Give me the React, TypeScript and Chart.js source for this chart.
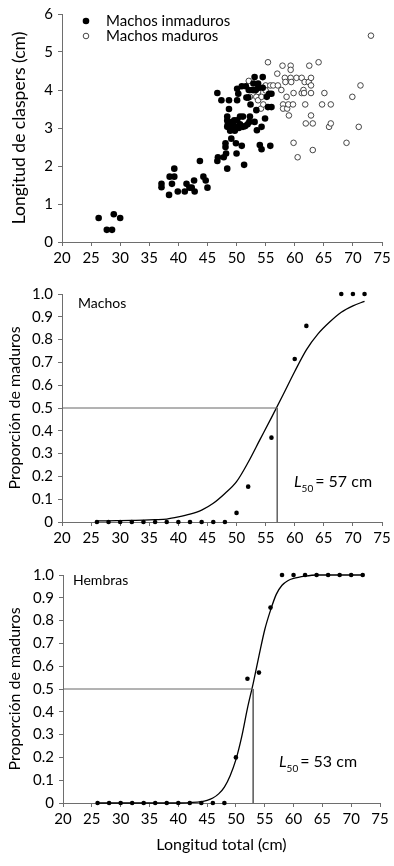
import React, { useEffect, useRef } from 'react';
import { Chart, registerables } from 'chart.js';
Chart.register(...registerables);

const FONT = 'Lato, "Open Sans", sans-serif';
const AXIS_COLOR = '#6e6e6e';

// ---------- Panel 1: clasper length vs total length ----------
const immatureLength = [
  26.3, 27.7, 28.6, 28.9, 30.0, 37.1, 37.1, 38.4, 38.5, 38.9, 39.3, 39.3, 39.9, 41.1, 41.4, 41.9, 42.3, 42.7, 42.8,
  43.7, 44.3, 44.7, 45.0, 46.7, 46.7, 46.8, 47.4, 47.8, 48.1, 48.1, 48.2, 48.4, 48.4, 48.4, 48.4, 48.7, 48.7, 48.9,
  49.1, 49.4, 49.4, 49.7, 49.9, 50.0, 50.1, 50.1, 50.1, 50.1, 50.3, 50.6, 50.6, 50.9, 51.1, 51.1, 51.3, 50.9, 51.6,
  51.7, 52.0, 52.1, 52.2, 52.3, 52.4, 52.7, 52.9, 53.1, 53.1, 53.3, 53.4, 53.5, 53.7, 53.7, 54.0, 54.3, 54.3, 54.5,
  54.5, 54.9, 55.2, 55.4, 55.6, 55.8, 56.0, 56.0, 49.0, 49.6, 50.4, 51.5, 51.9, 49.2, 48.5,
];
const immatureClasper = [
  0.63, 0.32, 0.32, 0.73, 0.63, 1.53, 1.44, 1.24, 1.72, 1.53, 1.93, 1.72, 1.33, 1.33, 1.53, 1.43, 1.43, 1.62, 1.33,
  2.13, 1.72, 1.62, 1.43, 3.92, 2.13, 2.23, 3.73, 2.23, 2.60, 2.50, 2.33, 1.93, 3.30, 3.20, 3.03, 3.73, 3.50, 2.93,
  2.72, 3.10, 3.03, 2.93, 2.60, 2.33, 4.03, 3.73, 3.03, 3.20, 3.90, 3.10, 3.30, 2.53, 3.03, 3.30, 2.03, 4.10, 4.10,
  3.80, 3.80, 4.00, 3.16, 3.30, 3.62, 4.00, 4.17, 3.16, 4.34, 4.00, 3.47, 2.94, 4.17, 4.05, 2.55, 3.03, 2.44, 4.34,
  4.06, 3.25, 3.82, 3.55, 3.90, 2.53, 3.55, 3.90, 3.15, 3.20, 3.00, 3.05, 3.10, 3.00, 3.10,
];
const matureLength = [
  53.7, 52.1, 52.3, 53.0, 53.4, 53.7, 54.2, 54.6, 54.3, 55.0, 55.0, 55.4, 55.8, 56.3, 57.0, 57.1, 57.7, 57.9, 58.0,
  58.0, 58.3, 58.4, 58.6, 58.7, 58.9, 59.0, 59.3, 59.3, 59.3, 59.4, 59.7, 59.8, 59.8, 60.3, 60.5, 61.2, 61.2, 61.5,
  61.6, 61.7, 61.8, 61.9, 62.4, 62.5, 62.8, 62.8, 62.8, 62.8, 63.1, 63.1, 64.1, 64.7, 65.1, 65.9, 66.2, 66.2, 68.9,
  69.9, 71.0, 71.3, 73.1,
];
const matureClasper = [
  3.95, 4.24, 3.82, 3.99, 3.82, 3.73, 3.51, 3.62, 3.82, 4.12, 3.99, 4.73, 4.12, 4.12, 4.43, 4.12, 4.00, 4.64, 3.62,
  3.51, 4.32, 4.21, 3.82, 3.51, 3.62, 3.33, 4.32, 4.64, 4.53, 4.21, 3.62, 2.61, 3.92, 4.32, 2.23, 4.32, 3.92, 4.00,
  3.92, 4.21, 3.62, 3.12, 4.21, 4.64, 4.12, 3.92, 4.32, 3.33, 3.12, 2.42, 4.73, 3.62, 3.92, 3.03, 3.12, 3.62, 2.61,
  3.82, 3.03, 4.12, 5.43,
];

// ---------- Panel 2: males ----------
const maleLength = [26, 28, 30, 32, 34, 36, 38, 40, 42, 44, 46, 48, 50, 52, 56, 60, 62, 68, 70, 72];
const maleProportion = [0, 0, 0, 0, 0, 0, 0, 0, 0, 0, 0, 0, 0.04, 0.155, 0.37, 0.715, 0.86, 1, 1, 1];
const maleCurveLength = [26, 28, 30, 32, 34, 36, 38, 40, 42, 44, 46, 48, 50, 52, 54, 56, 58, 60, 62, 64, 66, 68, 70, 72];
const maleCurveValue = [
  0.005, 0.005, 0.006, 0.007, 0.008, 0.01, 0.013, 0.022, 0.034, 0.052, 0.082, 0.125, 0.177, 0.262, 0.36, 0.458,
  0.558, 0.66, 0.755, 0.825, 0.877, 0.92, 0.948, 0.968,
];
const maleL50 = 57;

// ---------- Panel 3: females ----------
const femaleLength = [26, 28, 30, 32, 34, 36, 38, 40, 42, 44, 46, 48, 50, 52, 54, 56, 58, 60, 62, 64, 66, 68, 70, 72];
const femaleProportion = [0, 0, 0, 0, 0, 0, 0, 0, 0, 0, 0, 0, 0.2, 0.545, 0.572, 0.857, 1, 1, 1, 1, 1, 1, 1, 1];
const femaleCurveLength = [
  26, 28, 30, 32, 34, 36, 38, 40, 42, 44, 45, 46, 47, 48, 49, 50, 51, 52, 53, 54, 55, 56, 57, 58, 59, 60, 62, 64, 66,
  68, 70, 72,
];
const femaleCurveValue = [
  0, 0, 0, 0, 0, 0, 0, 0, 0.002, 0.006, 0.012, 0.022, 0.04, 0.07, 0.12, 0.19, 0.29, 0.415, 0.525, 0.645, 0.76, 0.845,
  0.915, 0.955, 0.975, 0.985, 0.995, 1, 1, 1, 1, 1,
];
const femaleL50 = 53;

const X_MIN = 20;
const X_MAX = 75;
const X_STEP = 5;

const pts = (xs: number[], ys: number[]) => xs.map((x, i) => ({ x, y: ys[i] }));

function xScaleOpts(height: number, title?: string) {
  return {
    type: 'linear',
    min: X_MIN,
    max: X_MAX,
    afterBuildTicks: (s: any) => {
      const t = [];
      for (let v = X_MIN; v <= X_MAX; v += X_STEP) t.push({ value: v });
      s.ticks = t;
    },
    ticks: { color: '#000', font: { family: FONT, size: 15 }, padding: 3, maxRotation: 0, autoSkip: false },
    grid: { drawOnChartArea: false, drawTicks: true, tickLength: 4, color: AXIS_COLOR },
    border: { display: true, color: AXIS_COLOR, width: 1 },
    title: title
      ? { display: true, text: title, color: '#000', font: { family: FONT, size: 16 }, padding: { top: 0, bottom: 12 } }
      : { display: false },
    afterFit: (s: any) => {
      s.height = height;
    },
  };
}

function yScaleOpts(
  width: number,
  max: number,
  step: number,
  title: string,
  titleSize: number,
  titleX: number,
  fmt: (v: number) => string
) {
  return {
    type: 'linear',
    min: 0,
    max,
    ticks: {
      stepSize: step,
      color: '#000',
      font: { family: FONT, size: 15 },
      padding: 5,
      callback: (v: any) => fmt(Number(v)),
    },
    grid: { drawOnChartArea: false, drawTicks: true, tickLength: 4, color: AXIS_COLOR },
    border: { display: true, color: AXIS_COLOR, width: 1 },
    title: {
      display: true,
      text: title,
      color: '#000',
      font: { family: FONT, size: titleSize },
      padding: { top: titleX - titleSize * 0.6, bottom: 0 },
    },
    afterFit: (s: any) => {
      s.width = width;
    },
  };
}

const propFmt = (v: number) => (Math.abs(v) < 1e-9 ? '0' : v.toFixed(1));

function textPlugin(draw: (ctx: CanvasRenderingContext2D, chart: any) => void) {
  return {
    id: 'texts',
    afterDraw(chart: any) {
      const ctx = chart.ctx;
      ctx.save();
      draw(ctx, chart);
      ctx.restore();
    },
  };
}

function drawL50(ctx: CanvasRenderingContext2D, x: number, y: number, value: number) {
  ctx.fillStyle = '#000';
  ctx.textBaseline = 'alphabetic';
  ctx.textAlign = 'left';
  ctx.font = `italic 16px ${FONT}`;
  ctx.fillText('L', x, y);
  let cx = x + ctx.measureText('L').width;
  ctx.font = `10px ${FONT}`;
  ctx.fillText('50', cx, y + 5);
  cx += ctx.measureText('50').width + 2;
  ctx.font = `16px ${FONT}`;
  ctx.fillText(`= ${value} cm`, cx, y);
}

function useChart(ref: React.RefObject<HTMLCanvasElement>, make: (c: HTMLCanvasElement) => Chart) {
  useEffect(() => {
    if (!ref.current) return;
    const ch = make(ref.current);
    return () => ch.destroy();
  }, []);
}

function App() {
  const r1 = useRef<HTMLCanvasElement>(null);
  const r2 = useRef<HTMLCanvasElement>(null);
  const r3 = useRef<HTMLCanvasElement>(null);

  useChart(r1, (c) =>
    new Chart(c, {
      type: 'scatter',
      data: {
        datasets: [
          {
            label: 'Machos inmaduros',
            data: pts(immatureLength, immatureClasper),
            pointRadius: 3.3,
            pointBackgroundColor: '#000',
            pointBorderColor: '#000',
            pointBorderWidth: 0,
            clip: false,
          },
          {
            label: 'Machos maduros',
            data: pts(matureLength, matureClasper),
            pointRadius: 2.8,
            pointBackgroundColor: '#fff',
            pointBorderColor: '#333',
            pointBorderWidth: 0.9,
            clip: false,
          },
        ],
      },
      options: {
        responsive: false,
        animation: false,
        layout: { padding: { top: 13, right: 12, left: 0, bottom: 0 } },
        plugins: { legend: { display: false }, tooltip: { enabled: false } },
        scales: {
          x: xScaleOpts(38) as any,
          y: yScaleOpts(62, 6, 1, 'Longitud de claspers (cm)', 17.5, 19, (v) => String(v)) as any,
        },
      },
      plugins: [
        textPlugin((ctx) => {
          ctx.font = `15px ${FONT}`;
          ctx.textBaseline = 'middle';
          ctx.textAlign = 'left';
          ctx.fillStyle = '#000';
          ctx.beginPath();
          ctx.arc(86, 21, 3.3, 0, Math.PI * 2);
          ctx.fill();
          ctx.fillText('Machos inmaduros', 106, 21);
          ctx.beginPath();
          ctx.arc(86, 36, 2.8, 0, Math.PI * 2);
          ctx.fillStyle = '#fff';
          ctx.fill();
          ctx.strokeStyle = '#333';
          ctx.lineWidth = 0.9;
          ctx.stroke();
          ctx.fillStyle = '#000';
          ctx.fillText('Machos maduros', 106, 36);
        }),
      ],
    } as any)
  );

  const propChart = (
    c: HTMLCanvasElement,
    lens: number[],
    props: number[],
    curveX: number[],
    curveY: number[],
    l50: number,
    label: string,
    pad: any,
    yWidth: number,
    xHeight: number,
    xTitle: string | undefined,
    labelPos: [number, number],
    l50Pos: [number, number]
  ) =>
    new Chart(c, {
      type: 'scatter',
      data: {
        datasets: [
          {
            label: 'L50',
            data: [
              { x: X_MIN, y: 0.5 },
              { x: l50, y: 0.5 },
              { x: l50, y: 0 },
            ],
            showLine: true,
            borderColor: '#666',
            borderWidth: 1,
            pointRadius: 0,
            tension: 0,
            clip: false,
          },
          {
            label: 'Ajuste',
            data: pts(curveX, curveY),
            showLine: true,
            borderColor: '#000',
            borderWidth: 1.3,
            pointRadius: 0,
            cubicInterpolationMode: 'monotone',
            clip: false,
          },
          {
            label,
            data: pts(lens, props),
            pointRadius: 2.3,
            pointBackgroundColor: '#000',
            pointBorderWidth: 0,
            clip: false,
          },
        ],
      },
      options: {
        responsive: false,
        animation: false,
        layout: { padding: pad },
        plugins: { legend: { display: false }, tooltip: { enabled: false } },
        scales: {
          x: xScaleOpts(xHeight, xTitle) as any,
          y: yScaleOpts(yWidth, 1, 0.1, 'Proporción de maduros', 16, 15, propFmt) as any,
        },
      },
      plugins: [
        textPlugin((ctx) => {
          ctx.font = `14px ${FONT}`;
          ctx.textBaseline = 'middle';
          ctx.textAlign = 'left';
          ctx.fillStyle = '#000';
          ctx.fillText(label, labelPos[0], labelPos[1]);
          drawL50(ctx, l50Pos[0], l50Pos[1], l50);
        }),
      ],
    } as any);

  useChart(r2, (c) =>
    propChart(
      c,
      maleLength,
      maleProportion,
      maleCurveLength,
      maleCurveValue,
      maleL50,
      'Machos',
      { top: 13, right: 12, left: 0, bottom: 0 },
      62,
      38,
      undefined,
      [78, 23],
      [294, 207]
    )
  );

  useChart(r3, (c) =>
    propChart(
      c,
      femaleLength,
      femaleProportion,
      femaleCurveLength,
      femaleCurveValue,
      femaleL50,
      'Hembras',
      { top: 15, right: 14, left: 0, bottom: 0 },
      63,
      63,
      'Longitud total (cm)',
      [73, 20],
      [279, 207]
    )
  );

  return (
    <div style={{ position: 'absolute', left: 0, top: 0, width: 394, height: 866, background: '#fff' }}>
      <canvas ref={r1} width={394} height={280} style={{ position: 'absolute', left: 0, top: 0, display: 'block' }} />
      <canvas ref={r2} width={394} height={280} style={{ position: 'absolute', left: 0, top: 280, display: 'block' }} />
      <canvas ref={r3} width={394} height={306} style={{ position: 'absolute', left: 0, top: 560, display: 'block' }} />
    </div>
  );
}

export default App;
